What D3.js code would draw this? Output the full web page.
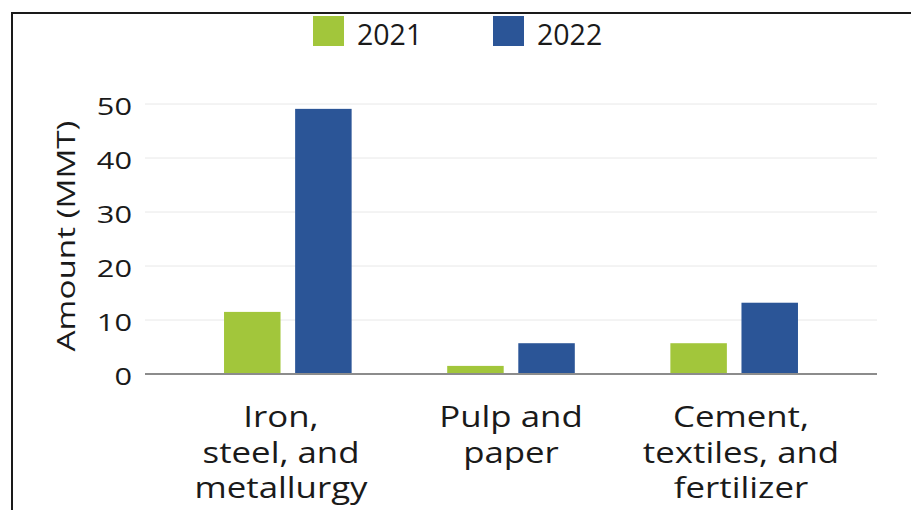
<!DOCTYPE html>
<html><head><meta charset="utf-8">
<script src="https://cdn.jsdelivr.net/npm/d3@7"></script>
<style>
html,body{margin:0;padding:0;background:#fff;}
svg{display:block;font-family:"Open Sans",sans-serif;}
</style></head>
<body><svg id="chart" width="911" height="510"></svg>
<script>
const categories = [["Iron,","steel, and","metallurgy"],["Pulp and","paper"],["Cement,","textiles, and","fertilizer"]];
const seriesNames = ["2021","2022"];
const values2021 = [11.5, 1.5, 5.7];
const values2022 = [49.1, 5.7, 13.2];
const yTicks = [0,10,20,30,40,50];
const colors = ["#a2c63b","#2b5597"];

const svg = d3.select("#chart");
const plotL = 145, plotR = 877, y0 = 374, y50 = 104;
const y = d3.scaleLinear().domain([0,50]).range([y0,y50]);
const x = d3.scaleBand().domain(d3.range(categories.length)).range([plotL,plotR]).paddingOuter(0.14).paddingInner(0);
const xLab = d3.scalePoint().domain(d3.range(categories.length)).range([281,741]);
const groupW = 127.6, gap = 14.6, barW = (groupW-gap)/2;
const inner = d3.scaleBand().domain(seriesNames).range([0,groupW]).paddingInner(gap/(barW+gap)).paddingOuter(0);

// widen glyphs to imitate a wide geometric face
function stretch(sel, f){
  sel.each(function(){
    const w = this.getComputedTextLength();
    d3.select(this).attr("textLength", w*f).attr("lengthAdjust","spacingAndGlyphs");
  });
}

// border
svg.append("path").attr("d","M12,510 L12,13 L911,13").attr("fill","none").attr("stroke","#1a1a1a").attr("stroke-width",2);

// gridlines
svg.append("g").selectAll("line").data(yTicks.filter(d=>d>0)).join("line")
  .attr("x1",plotL).attr("x2",plotR).attr("y1",d=>y(d)).attr("y2",d=>y(d))
  .attr("stroke","#e8e8e8").attr("stroke-width",1);

// y tick labels
const yl = svg.append("g").selectAll("text").data(yTicks).join("text")
  .attr("x",132).attr("y",d=>y(d)+11).attr("text-anchor","end")
  .attr("font-size",24).attr("fill","#1a1a1a").text(d=>d);
stretch(yl, 1.28);

// axis title
const at = svg.append("text").attr("transform","translate(75,236) rotate(-90)").attr("text-anchor","middle")
  .attr("font-size",25).attr("fill","#1a1a1a").text("Amount (MMT)");
stretch(at, 1.33);

// bars
const data = categories.map((c,i)=>({i, vals:[values2021[i], values2022[i]]}));
const groups = svg.append("g").selectAll("g").data(data).join("g")
  .attr("transform",d=>`translate(${x(d.i)+x.bandwidth()/2-groupW/2},0)`);
groups.selectAll("rect").data(d=>d.vals.map((v,k)=>({v,k}))).join("rect")
  .attr("x",d=>inner(seriesNames[d.k])).attr("width",inner.bandwidth())
  .attr("y",d=>y(d.v)).attr("height",d=>y0-y(d.v)).attr("fill",d=>colors[d.k]);

// x axis line
svg.append("line").attr("x1",plotL).attr("x2",plotR).attr("y1",y0).attr("y2",y0)
  .attr("stroke","#8c8c8c").attr("stroke-width",2);

// category labels
const lab = svg.append("g").selectAll("g").data(categories).join("g");
lab.each(function(lines,i){
  const g = d3.select(this);
  lines.forEach((ln,j)=>{
    const t = g.append("text").attr("text-anchor","middle").attr("font-size",30).attr("fill","#1a1a1a")
      .attr("x",xLab(i)).attr("y",427+j*35.5).text(ln);
    stretch(t, 1.16);
  });
});

// legend
const lg = svg.append("g");
const legX = [313,493];
seriesNames.forEach((s,k)=>{
  lg.append("rect").attr("x",legX[k]).attr("y",16).attr("width",31).attr("height",30).attr("fill",colors[k]);
  const t = lg.append("text").attr("x",legX[k]+44).attr("y",45).attr("font-size",30).attr("fill","#1a1a1a").text(s);
  stretch(t, 0.95);
});
</script></body></html>
